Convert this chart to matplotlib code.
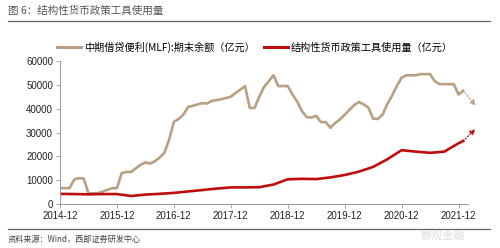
import matplotlib
matplotlib.use("Agg")
import matplotlib.pyplot as plt
from matplotlib.lines import Line2D

plt.rcParams['font.family'] = ['Liberation Sans', 'Noto Sans CJK SC', 'DejaVu Sans']

# month index 0 = 2014-12
mlf_months = list(range(0, 86))
mlf_values = [6700, 6700, 6700, 10300, 10900, 10700, 4500, 4500, 4600, 5200,
              6000, 6700, 6700, 13000, 13500, 13500, 15000, 16500, 17500, 17000,
              18000, 19500, 21500, 27000, 34500, 35700, 37500, 40700, 41200, 41800,
              42300, 42200, 43300, 43600, 44000, 44500, 45000, 46600, 48000, 49500,
              40300, 40300, 45000, 49100, 51500, 54000, 49500, 49500, 49500, 46000,
              43000, 39000, 36500, 36300, 37000, 34400, 34400, 32000, 34000, 35500,
              37500, 39500, 41500, 42800, 41800, 40500, 35800, 35700, 37500, 42000,
              45500, 49500, 53000, 54000, 54000, 54000, 54500, 54500, 54500, 51500,
              50300, 50300, 50300, 50300, 46000, 47500]

tool_months = [0, 3, 6, 9, 12, 15, 18, 21, 24, 27, 30, 33, 36, 39, 42, 45, 48,
               51, 54, 57, 60, 63, 66, 69, 72, 75, 78, 81, 84, 85]
tool_values = [4300, 4200, 4100, 4200, 4200, 3400, 4000, 4300, 4700, 5300, 5900,
               6500, 7000, 7000, 7100, 8200, 10400, 10600, 10500, 11200, 12200,
               13600, 15600, 18800, 22600, 22000, 21500, 22000, 25500, 26500]

# dotted arrow targets (trend hints)
arrow_month = 88
mlf_arrow_value = 40300
tool_arrow_value = 32300

tick_months = [0, 12, 24, 36, 48, 60, 72, 84]
tick_labels = ["2014-12", "2015-12", "2016-12", "2017-12",
               "2018-12", "2019-12", "2020-12", "2021-12"]
yticks = [0, 10000, 20000, 30000, 40000, 50000, 60000]

c_mlf = "#B9A084"
c_tool = "#BF0D0D"
cjk = ['Noto Sans CJK SC', 'DejaVu Sans']

fig = plt.figure(figsize=(5, 2.48), dpi=100)
ax = fig.add_axes([0.12, 0.177, 0.816, 0.577])

ax.plot(mlf_months, mlf_values, color=c_mlf, lw=1.9, solid_joinstyle='round')
ax.plot(tool_months, tool_values, color=c_tool, lw=1.9, solid_joinstyle='round')

ax.annotate("", xy=(arrow_month, mlf_arrow_value), xytext=(mlf_months[-1], mlf_values[-1]),
            arrowprops=dict(arrowstyle='-|>', linestyle=':', color=c_mlf, lw=0.9,
                            mutation_scale=8), annotation_clip=False)
ax.annotate("", xy=(arrow_month, tool_arrow_value), xytext=(tool_months[-1], tool_values[-1]),
            arrowprops=dict(arrowstyle='-|>', linestyle=':', color=c_tool, lw=0.9,
                            mutation_scale=8), annotation_clip=False)

ax.set_xlim(0, 86)
ax.set_ylim(0, 60000)
ax.set_xticks(tick_months)
ax.set_xticklabels(tick_labels)
ax.set_yticks(yticks)
ax.tick_params(labelsize=7, colors="#222222", length=3, width=0.6, pad=2)
ax.tick_params(axis='both', color="#999999")
for s in ["top", "right"]:
    ax.spines[s].set_visible(False)
for s in ["left", "bottom"]:
    ax.spines[s].set_color("#999999")
    ax.spines[s].set_linewidth(0.7)

handles = [Line2D([], [], color=c_mlf, lw=2.2), Line2D([], [], color=c_tool, lw=2.2)]
fig.legend(handles, ["中期借贷便利(MLF):期末余额（亿元）", "结构性货币政策工具使用量（亿元）"],
           loc="center", bbox_to_anchor=(0.51, 0.81), ncol=2, frameon=False,
           prop={'family': cjk, 'size': 7.3}, handlelength=2.3, handletextpad=0.3,
           columnspacing=1.0)

fig.text(0.016, 0.955, "图 6：结构性货币政策工具使用量", fontsize=7.6, color="#555555",
         family=cjk, va="center")
fig.add_artist(Line2D([0.016, 0.98], [0.915, 0.915], color="#666666", lw=0.9))
fig.add_artist(Line2D([0.016, 0.98], [0.077, 0.077], color="#666666", lw=0.9))
fig.text(0.016, 0.036, "资料来源：Wind，西部证券研发中心", fontsize=5.9, color="#444444",
         family=cjk, va="center")
fig.text(0.93, 0.05, "静观金融", fontsize=8, color="#dddddd", family=cjk,
         ha="right", va="center")

fig.savefig("out.png", dpi=100)
